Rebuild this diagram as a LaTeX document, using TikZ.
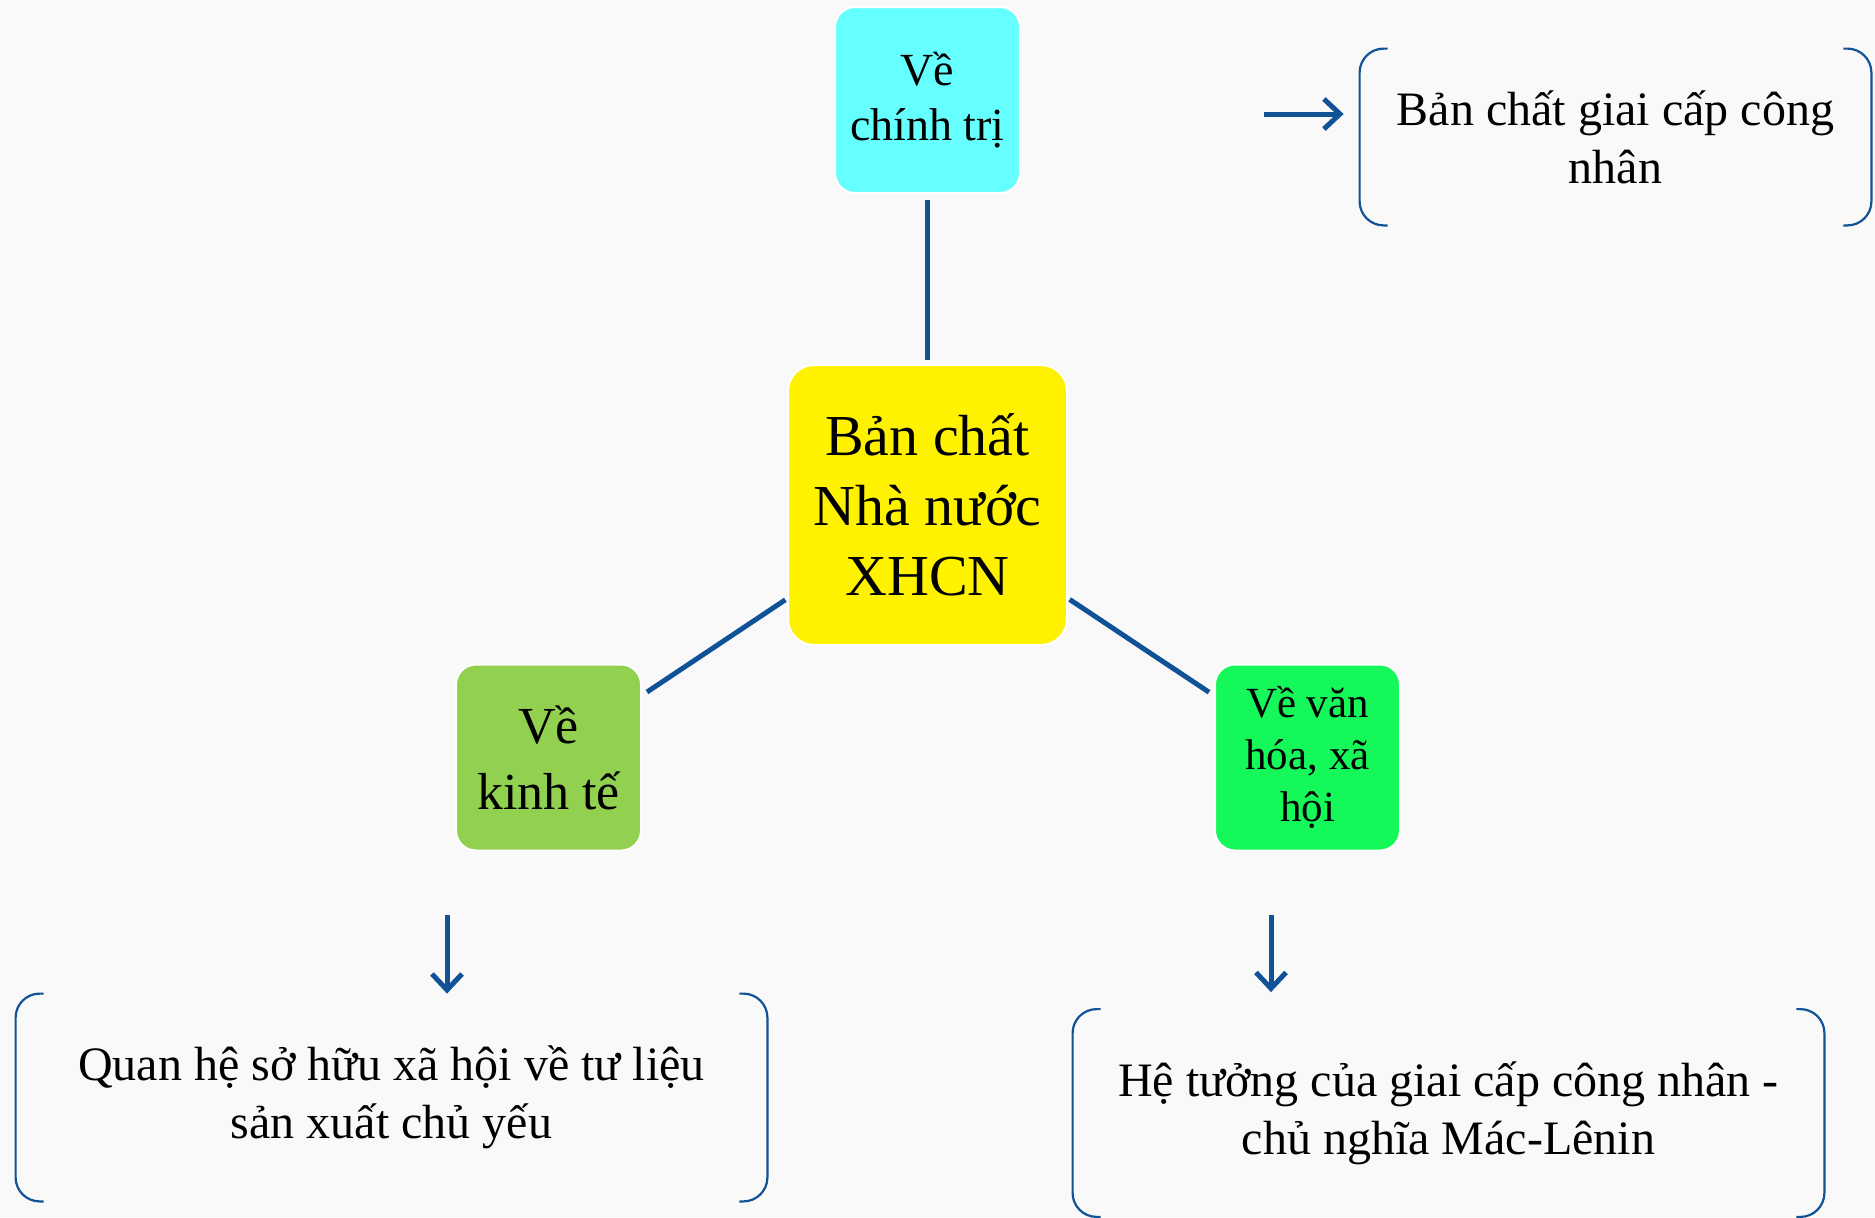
\documentclass[tikz,border=0pt]{standalone}
\usepackage{fontspec}
\setmainfont{Liberation Serif}
\usetikzlibrary{arrows.meta}
\definecolor{bgpaper}{RGB}{249,249,249}
\definecolor{linkblue}{RGB}{16,82,150}
\definecolor{polcyan}{RGB}{102,255,255}
\definecolor{ecogreen}{RGB}{146,208,80}
\definecolor{culgreen}{RGB}{20,248,90}
\tikzstyle{core} = [rectangle, draw=white, line width=1pt, fill=yellow,
rounded corners=13pt, minimum width=139.5pt, minimum height=140pt,
align=center, font=\fontsize{29}{35}\selectfont]
\tikzstyle{aspect} = [rectangle, draw=white, line width=1pt,
rounded corners=10pt, minimum width=92.5pt, minimum height=93pt, align=center]
\tikzstyle{result} = [rectangle, minimum width=375.5pt, minimum height=103.5pt,
align=center, font=\fontsize{24}{29}\selectfont]
\tikzstyle{link} = [draw, linkblue, line width=2.5pt]
\tikzstyle{line} = [draw, linkblue, line width=2.5pt,
-{Straight Barb[length=8pt,width=15pt]}]
\tikzstyle{brace} = [draw, linkblue, line width=1.1pt, rounded corners=12pt]

\begin{document}
\begin{tikzpicture}[x=0.5pt, y=-0.5pt]
    \fill [bgpaper] (0,0) rectangle (1875,1217);
    \useasboundingbox (0,0) rectangle (1875,1217);
    % Place nodes
    \node [core] (state) at (927.5,505) {Bản chất\\Nhà nước\\XHCN};
    \node [aspect, fill=polcyan, font=\fontsize{23}{27.5}\selectfont,
    above of=state, node distance=202.5pt] (polit) {Về\\chính trị};
    \node [aspect, fill=ecogreen, font=\fontsize{26}{33}\selectfont]
    (econ) at (548.5,757.5) {Về\\kinh tế};
    \node [aspect, fill=culgreen, font=\fontsize{21.5}{26}\selectfont]
    (cult) at (1307.5,757.5) {Về văn\\hóa, xã\\hội};
    \node [result, minimum width=255.5pt, minimum height=88pt]
    (politres) at (1615.5,137) {Bản chất giai cấp công\\nhân};
    \node [result] (econres) at (391.5,1097.5)
    {Quan hệ sở hữu xã hội về tư liệu\\sản xuất chủ yếu};
    \node [result] (cultres) at (1448.5,1113)
    {Hệ tưởng của giai cấp công nhân -\\chủ nghĩa Mác-Lênin};
    \coordinate (politfrom) at (1264,114);
    \coordinate (econfrom) at (447,915);
    \coordinate (cultfrom) at (1271,915);

    % Draw edges
    \path [link, shorten <=3pt, shorten >=2pt] (polit) -- (state);
    \path [link, shorten <=1pt, shorten >=3pt] (state) -- (econ);
    \path [link, shorten <=1pt, shorten >=3pt] (state) -- (cult);
    \path [line, shorten >=8pt] (politfrom) -- (politfrom -| politres.west);
    \path [line] (econfrom) -- (econfrom |- econres.north);
    \path [line, shorten >=8.5pt] (cultfrom) -- (cultfrom |- cultres.north);

    % Brackets round the results
    \foreach \res in {politres, econres, cultres} {
        \path [brace] ([xshift=14pt]\res.north west) -- (\res.north west)
        -- (\res.south west) -- ([xshift=14pt]\res.south west);
        \path [brace] ([xshift=-14pt]\res.north east) -- (\res.north east)
        -- (\res.south east) -- ([xshift=-14pt]\res.south east);
    }
\end{tikzpicture}
\end{document}
